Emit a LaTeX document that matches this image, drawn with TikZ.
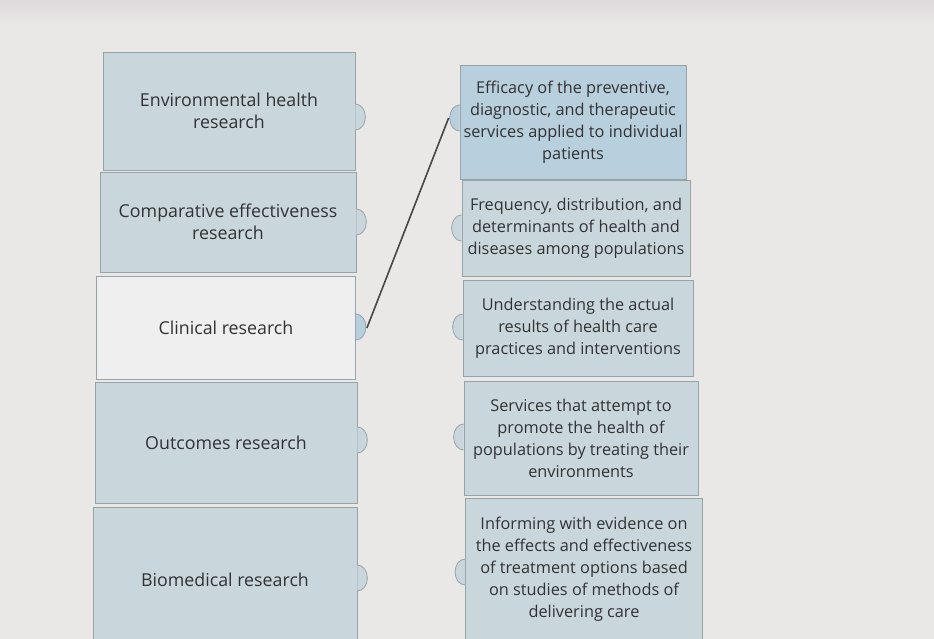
\documentclass[tikz,border=0pt]{standalone}
\usepackage{fontspec}
\setmainfont{Open Sans}
\definecolor{boxblue}{RGB}{201,215,221}
\definecolor{pickblue}{RGB}{184,207,222}
\definecolor{edgegray}{RGB}{150,163,168}
\definecolor{pagegray}{RGB}{234,231,231}
\definecolor{topgray}{RGB}{222,217,219}
\definecolor{blankgray}{RGB}{240,239,239}
\definecolor{inkgray}{RGB}{50,50,50}
\tikzset{
  card/.style={draw=edgegray, line width=0.8pt, inner sep=0pt, align=center,
    text=inkgray, font=\fontsize{17.8}{22}\selectfont},
  answer/.style={card, font=\fontsize{16.3}{22}\selectfont},
  tab/.style={draw=edgegray, line width=0.8pt},
  link/.style={draw=black!72, line width=1.6pt}
}

\begin{document}
\begin{tikzpicture}[x=1pt,y=-1pt]
\fill[pagegray] (0,0) rectangle (934,639);
\shade[top color=topgray, bottom color=pagegray] (0,0) rectangle (934,24);
\useasboundingbox (0,0) rectangle (934,639);
% left column
\foreach \n/\x/\y/\w/\h/\c/\t in {
    env/229/111/252/118/boxblue/{Environmental health\\research},
    comp/228/222/256/100/boxblue/{Comparative effectiveness\\research},
    clin/226/328/259/103/blankgray/{Clinical research},
    out/226/443/262/121/boxblue/{Outcomes research},
    bio/225/580/264/145/boxblue/{Biomedical research}}
  \node[card, fill=\c, minimum width=\w, minimum height=\h] (\n) at (\x,\y) {\t};
\foreach \n/\ty/\c in {env/117/boxblue, comp/222/boxblue, clin/327/pickblue,
    out/440/boxblue, bio/578/boxblue}
  \filldraw[tab, fill=\c] (\n.east |- 0,\ty) ++(0,-13)
    arc[start angle=90, end angle=-90, x radius=10pt, y radius=13pt];
% right column
\foreach \n/\x/\y/\w/\h/\c/\t in {
    eff/573/122/226/114/pickblue/{Efficacy of the preventive,\\diagnostic, and therapeutic\\services applied to individual\\patients},
    freq/576/228/228/96/boxblue/{Frequency, distribution, and\\determinants of health and\\diseases among populations},
    und/578/328/230/96/boxblue/{Understanding the actual\\results of health care\\practices and interventions},
    serv/581/438/234/114/boxblue/{Services that attempt to\\promote the health of\\populations by treating their\\environments},
    inf/584/569/237/141/boxblue/{Informing with evidence on\\the effects and effectiveness\\of treatment options based\\on studies of methods of\\delivering care}}
  \node[answer, fill=\c, minimum width=\w, minimum height=\h] (\n) at (\x,\y) {\t};
\foreach \n/\ty/\c in {eff/118/pickblue, freq/228/boxblue, und/327/boxblue,
    serv/437/boxblue, inf/572/boxblue}
  \filldraw[tab, fill=\c] (\n.west |- 0,\ty) ++(0,-13)
    arc[start angle=90, end angle=270, x radius=10pt, y radius=13pt];
% matched pair
\path (clin.east |- 0,328) ++(11,0) coordinate (clintip);
\path (eff.west |- 0,118) ++(-11,0) coordinate (efftip);
\draw[link] (clintip) -- (efftip);
\end{tikzpicture}
\end{document}
